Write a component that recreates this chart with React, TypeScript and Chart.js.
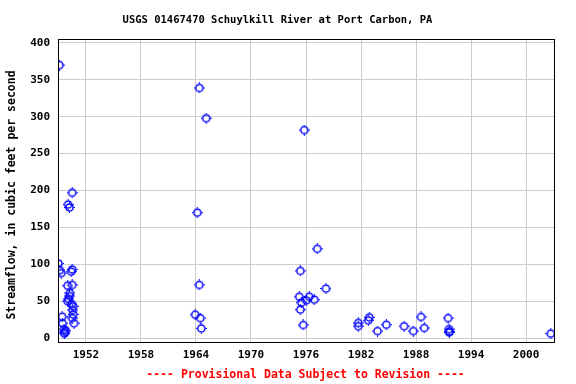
import React, { useEffect, useRef } from "react";
import { Chart, registerables } from "chart.js";

Chart.register(...registerables);

const titleText = "USGS 01467470 Schuylkill River at Port Carbon, PA";
const yAxisLabel = "Streamflow, in cubic feet per second";
const footnote = "---- Provisional Data Subject to Revision ----";

const xTickYears = [1952, 1958, 1964, 1970, 1976, 1982, 1988, 1994, 2000];
const yTickValues = [0, 50, 100, 150, 200, 250, 300, 350, 400];

const years = [
  1949.1, 1949.0, 1949.15, 1949.3, 1949.4, 1949.45, 1949.6, 1949.7, 1949.8, 1949.65,
  1950.0, 1950.1, 1950.2, 1950.25, 1950.0, 1950.4, 1950.5, 1950.5, 1950.45, 1950.6,
  1950.55, 1950.6, 1950.5, 1950.7, 1950.5, 1950.05, 1950.2,
  1963.92, 1964.14, 1964.36, 1964.36, 1964.47, 1964.58, 1965.12,
  1975.27, 1975.38, 1975.38, 1975.49, 1975.7, 1975.81, 1976.03, 1976.36, 1976.9, 1977.23, 1978.18,
  1981.7, 1981.7, 1982.8, 1982.9, 1983.8, 1984.76, 1986.7, 1987.7, 1988.55, 1988.9,
  1991.5, 1991.6, 1991.65, 1991.62, 2002.7,
];
const flows = [
  370, 101, 92, 88, 29, 20, 12, 8, 10, 6,
  50, 53, 57, 61, 71, 90, 93, 72, 46, 43,
  38, 32, 27, 20, 197, 181, 177,
  31.7, 170, 339, 72, 27, 13, 298,
  56, 91, 38.5, 48, 17.7, 282, 51, 56, 52, 121, 67,
  20.5, 16, 24, 28, 9.5, 18, 16, 9.5, 28.6, 13.6,
  27, 12, 9, 7.6, 6,
];

function makeMarker(): HTMLCanvasElement {
  const c = document.createElement("canvas");
  c.width = 11;
  c.height = 11;
  const g = c.getContext("2d")!;
  g.strokeStyle = "#0000ff";
  g.fillStyle = "#0000ff";
  g.lineWidth = 1.5;
  g.beginPath();
  g.arc(5.5, 5.5, 3.6, 0, Math.PI * 2);
  g.stroke();
  g.fillRect(5, 0, 1, 1);
  g.fillRect(5, 10, 1, 1);
  g.fillRect(0, 5, 1, 1);
  g.fillRect(10, 5, 1, 1);
  return c;
}

const MONO = "'DejaVu Sans Mono', 'Liberation Mono', monospace";

export default function App() {
  const ref = useRef<HTMLCanvasElement | null>(null);
  useEffect(() => {
    if (!ref.current) return;
    const marker = makeMarker();
    const textPlugin = {
      id: "texts",
      afterDraw(chart: any) {
        const ctx = chart.ctx;
        const a = chart.chartArea;
        ctx.save();
        ctx.strokeStyle = "#000";
        ctx.lineWidth = 1;
        ctx.strokeRect(Math.round(a.left) + 0.5, Math.round(a.top) + 0.5, Math.round(a.right - a.left), Math.round(a.bottom - a.top));
        ctx.fillStyle = "#000";
        ctx.font = `bold 10.5px ${MONO}`;
        ctx.textAlign = "center";
        ctx.textBaseline = "middle";
        ctx.fillText(titleText, 277.5, 20);
        ctx.fillStyle = "#ff0000";
        ctx.font = `bold 11.5px ${MONO}`;
        ctx.fillText(footnote, 305.5, 375);
        ctx.fillStyle = "#000";
        ctx.font = `bold 11.5px ${MONO}`;
        ctx.translate(12, 195);
        ctx.rotate(-Math.PI / 2);
        ctx.fillText(yAxisLabel, 0, 0);
        ctx.restore();
      },
    };
    const chart = new Chart(ref.current, {
      type: "scatter",
      data: {
        datasets: [
          {
            data: years.map((y, i) => ({ x: y, y: flows[i] })),
            pointStyle: marker as any,
            pointRadius: 4,
            borderColor: "#0000ff",
            backgroundColor: "rgba(0,0,0,0)",
          },
        ],
      },
      options: {
        animation: false,
        responsive: false,
        maintainAspectRatio: false,
        events: [],
        layout: { padding: { top: 39, right: 22, left: 0, bottom: 0 } },
        plugins: { legend: { display: false }, tooltip: { enabled: false }, title: { display: false } },
        scales: {
          x: {
            type: "linear",
            min: 1948.95,
            max: 2003.05,
            afterFit: (s: any) => { s.height = 42; },
            afterBuildTicks: (s: any) => { s.ticks = xTickYears.map((v) => ({ value: v })); },
            grid: { color: "#cccccc", lineWidth: 1, drawTicks: false },
            border: { display: false },
            ticks: {
              padding: 7,
              color: "#000",
              font: { family: MONO, size: 11, weight: "bold" },
              callback: (v: any) => String(v),
              maxRotation: 0,
            },
          },
          y: {
            type: "linear",
            min: -5.4,
            max: 405.4,
            afterFit: (s: any) => { s.width = 58; },
            afterBuildTicks: (s: any) => { s.ticks = yTickValues.map((v) => ({ value: v })); },
            grid: { color: "#cccccc", lineWidth: 1, drawTicks: false },
            border: { display: false },
            ticks: {
              padding: 8,
              color: "#000",
              font: { family: MONO, size: 11, weight: "bold" },
              callback: (v: any) => String(v),
            },
          },
        },
      },
      plugins: [textPlugin],
    });
    return () => chart.destroy();
  }, []);
  return (
    <div style={{ position: "fixed", left: 0, top: 0, width: 576, height: 384, background: "#fff" }}>
      <canvas ref={ref} width={576} height={384} style={{ width: 576, height: 384 }} />
    </div>
  );
}
